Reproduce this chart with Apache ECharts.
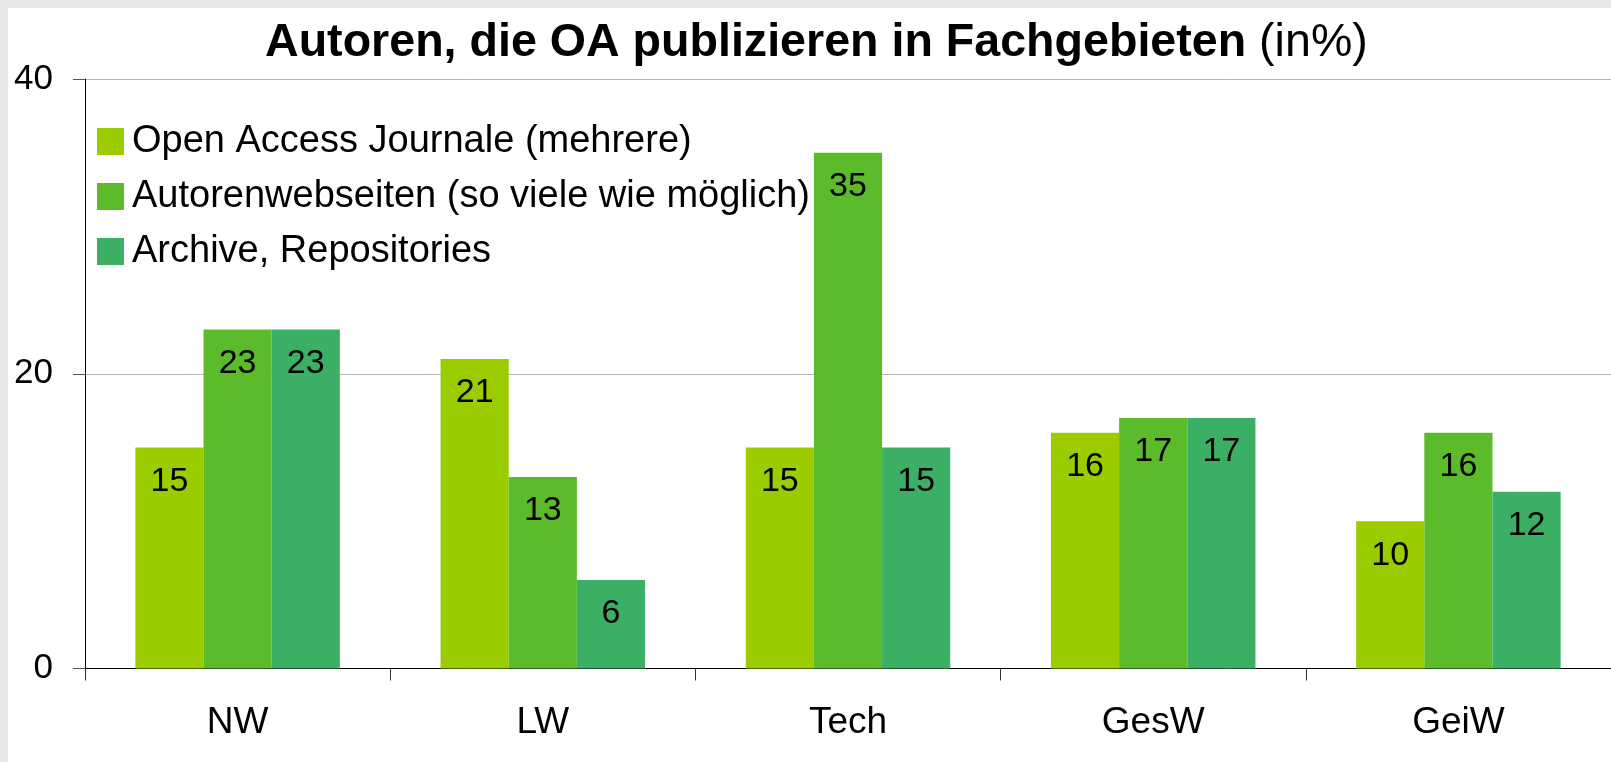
<!DOCTYPE html>
<html>
<head>
<meta charset="utf-8">
<script src="https://cdn.jsdelivr.net/npm/echarts@6/dist/echarts.min.js"></script>
<style>
  html, body { margin: 0; padding: 0; background: #e8e8e8; }
  #panel { position: absolute; left: 8px; top: 8px; right: 0; bottom: 0; background: #fff; }
  #main { position: absolute; left: 0; top: 0; width: 1611px; height: 762px; }
</style>
</head>
<body>
<div id="panel"></div>
<div id="main"></div>
<script>
// Fachgebiete
var categories = ['NW', 'LW', 'Tech', 'GesW', 'GeiW'];
var seriesNames = [
    'Open Access Journale (mehrere)',
    'Autorenwebseiten (so viele wie möglich)',
    'Archive, Repositories'
];
var journale = [15, 21, 15, 16, 10];
var webseiten = [23, 13, 35, 17, 16];
var archive = [23, 6, 15, 17, 12];
var yTicks = [0, 20, 40];

var colors = ['#9acc00', '#5bbb2a', '#3bb064'];
var font = '"Liberation Sans", Arial, sans-serif';

var myChart = echarts.init(document.getElementById('main'));

function makeSeries(name, data, color) {
    return {
        name: name,
        type: 'bar',
        data: data,
        barGap: '0%',
        barCategoryGap: '33%',
        itemStyle: { color: color },
        label: {
            show: true,
            position: 'insideTop',
            distance: 17,
            color: '#000',
            fontFamily: font,
            fontSize: 34,
            lineHeight: 34
        }
    };
}

myChart.setOption({
    animation: false,
    backgroundColor: 'transparent',
    textStyle: { fontFamily: font },
    title: {
        left: 265,
        top: 20,
        padding: 0,
        text: '{b|Autoren, die OA publizieren in Fachgebieten}{n| (in%)}',
        textStyle: {
            rich: {
                b: { fontFamily: font, fontSize: 46.6, fontWeight: 'bold', color: '#000', lineHeight: 47 },
                n: { fontFamily: font, fontSize: 46.6, fontWeight: 'normal', color: '#000', lineHeight: 47 }
            }
        }
    },
    legend: {
        orient: 'vertical',
        left: 97,
        top: 114,
        padding: 0,
        itemGap: 0,
        itemWidth: 27,
        itemHeight: 27,
        icon: 'rect',
        selectedMode: false,
        data: seriesNames,
        textStyle: {
            fontFamily: font,
            fontSize: 38,
            lineHeight: 41,
            color: '#000',
            padding: [0, 0, 14, 3]
        }
    },
    grid: {
        left: 85,
        right: -6.5,
        top: 79,
        bottom: 93.5,
        containLabel: false
    },
    xAxis: {
        type: 'category',
        data: categories,
        boundaryGap: true,
        axisLine: { show: true, lineStyle: { color: '#000', width: 1 } },
        axisTick: { show: true, length: 12, alignWithLabel: false, lineStyle: { color: '#333' } },
        axisLabel: { color: '#000', fontFamily: font, fontSize: 37, margin: 36 },
        splitLine: { show: false }
    },
    yAxis: {
        type: 'value',
        min: yTicks[0],
        max: yTicks[yTicks.length - 1],
        interval: yTicks[1] - yTicks[0],
        axisLine: { show: true, lineStyle: { color: '#000', width: 1 } },
        axisTick: { show: true, length: 12, lineStyle: { color: '#555' } },
        axisLabel: { color: '#000', fontFamily: font, fontSize: 35, margin: 32, padding: [0, 0, 8, 0] },
        splitLine: { show: true, lineStyle: { color: '#b4b4b4', width: 1 } }
    },
    series: [
        makeSeries(seriesNames[0], journale, colors[0]),
        makeSeries(seriesNames[1], webseiten, colors[1]),
        makeSeries(seriesNames[2], archive, colors[2])
    ]
});
</script>
</body>
</html>
